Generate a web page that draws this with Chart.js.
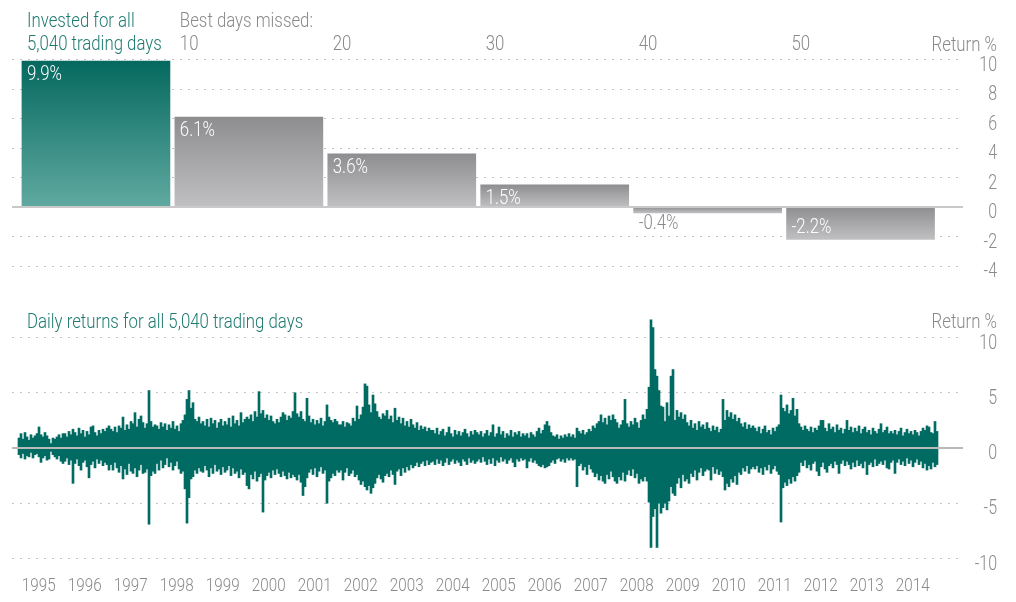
<!DOCTYPE html>
<html>
<head>
<meta charset="utf-8">
<script src="https://cdn.jsdelivr.net/npm/chart.js@4.4.1/dist/chart.umd.min.js"></script>
<style>
  html, body { margin: 0; padding: 0; background: #fff; }
  #wrap { position: relative; width: 1016px; height: 602px; overflow: hidden; }
  #c1 { position: absolute; left: 0; top: 0; }
  #c2 { position: absolute; left: 0; top: 290px; }
</style>
</head>
<body>
<div id="wrap">
  <canvas id="c1" width="1016" height="290"></canvas>
  <canvas id="c2" width="1016" height="312"></canvas>
</div>
<script>
// Missed best days vs annual return
var missedLabels = ['Invested for all|5,040 trading days', '10', '20', '30', '40', '50'];
var missedReturns = [9.9, 6.1, 3.6, 1.5, -0.4, -2.2];

var years = [1995, 1996, 1997, 1998, 1999, 2000, 2001, 2002, 2003, 2004,
             2005, 2006, 2007, 2008, 2009, 2010, 2011, 2012, 2013, 2014];
var SLOTS_PER_YEAR = 23;
var dailyUp = [
  0.9,1.3,0.8,1.4,1.0,0.7,1.2,0.9,1.1,1.3,1.9,1.2,1.0,1.4,1.1,0.8,0.4,0.9,0.8,1.0,1.2,0.9,1.3, // 1995
  1.3,1.0,1.5,1.2,1.7,1.4,1.1,1.8,1.3,1.6,1.0,1.5,1.2,1.9,2.0,1.4,1.1,1.6,1.3,1.7,1.5,1.8,2.0, // 1996
  1.7,1.5,1.9,1.4,2.0,1.8,2.8,1.6,2.1,1.7,2.4,2.2,3.2,1.9,2.6,2.9,2.3,1.8,2.2,5.2,2.4,1.9,2.1, // 1997
  2.0,1.7,2.3,1.9,2.2,1.6,2.1,1.8,2.4,1.7,2.0,1.5,2.2,2.5,3.0,4.4,5.2,3.6,4.1,2.6,2.4,2.8,2.2, // 1998
  2.4,2.0,2.6,1.9,2.7,2.2,2.5,1.8,2.3,2.6,2.0,2.4,2.1,2.7,1.9,2.9,2.2,2.5,2.0,3.2,2.3,2.6,2.8, // 1999
  2.6,3.0,2.4,3.3,2.8,5.1,3.1,3.4,2.7,3.0,2.5,2.9,2.4,2.2,2.6,2.3,2.8,3.2,3.0,2.5,2.9,2.7,3.3, // 2000
  5.0,3.1,2.8,3.3,2.6,2.4,4.5,2.9,2.3,2.6,2.1,2.5,2.2,2.7,2.0,2.4,3.9,2.8,2.5,2.3,2.6,2.4,2.1, // 2001
  2.1,2.4,1.9,2.3,2.2,2.0,2.7,2.4,3.8,2.6,3.0,3.7,5.8,5.6,3.9,3.2,4.8,4.0,3.3,2.8,2.6,3.1,2.9, // 2002
  3.4,2.6,2.9,2.3,3.6,2.5,2.8,2.2,2.7,2.0,2.4,1.9,2.6,2.1,1.8,2.3,1.6,2.0,1.7,1.9,1.5,1.8,1.6, // 2003
  1.6,1.3,1.8,1.2,1.5,1.7,1.1,1.4,1.9,1.3,1.0,1.6,1.2,1.5,1.1,1.4,1.7,1.3,1.0,1.5,1.2,1.6,1.4, // 2004
  1.2,1.5,1.0,1.3,1.6,1.1,1.4,2.1,1.0,1.3,1.9,1.2,1.5,0.9,1.3,1.1,1.6,1.0,1.4,1.2,1.5,1.0,1.3, // 2005
  1.1,1.3,0.9,1.4,1.2,1.0,1.5,1.8,1.3,1.6,2.1,2.4,2.0,1.4,1.1,1.0,1.2,0.8,1.1,0.9,1.2,1.0,1.3, // 2006
  1.0,1.2,0.9,1.8,1.5,1.3,1.6,1.2,1.4,1.7,1.5,2.0,1.8,2.2,2.4,3.0,2.3,2.7,2.1,2.9,2.5,3.0,2.6, // 2007
  2.3,1.8,2.1,2.5,4.4,2.2,1.9,2.4,2.1,2.7,2.3,1.8,2.5,3.0,2.6,3.5,5.5,11.6,10.9,7.1,6.5,5.2,3.8, // 2008
  3.7,2.4,4.1,2.9,6.5,7.1,2.5,3.4,2.8,3.2,2.6,3.0,2.3,2.0,2.5,1.8,2.2,1.6,2.4,1.9,2.1,1.7,2.3, // 2009
  1.8,1.5,2.0,1.6,1.9,1.4,1.7,4.4,2.5,3.4,2.8,3.2,2.6,3.0,2.4,2.7,2.2,1.9,2.3,1.7,2.1,1.8,2.0, // 2010
  1.8,1.5,1.9,1.3,1.7,2.0,1.4,1.6,1.2,1.8,1.5,1.9,2.1,4.8,3.6,3.3,3.9,3.1,3.4,4.5,2.9,3.5,2.2, // 2011
  1.9,1.6,2.0,1.7,1.5,1.9,1.4,1.8,1.6,2.0,2.5,2.5,1.8,1.5,2.2,1.7,1.9,1.4,2.1,1.6,1.8,1.3,1.7, // 2012
  2.5,1.6,1.9,1.4,1.8,1.5,2.0,1.3,1.7,1.9,1.4,1.6,1.2,1.8,1.5,1.3,1.7,2.2,1.4,1.6,1.9,1.3,1.5, // 2013
  1.3,1.6,1.2,1.5,1.8,1.1,1.4,1.7,1.3,1.5,1.2,1.6,1.4,1.1,1.5,1.8,1.6,2.0,1.9,1.4,1.3,2.4,1.5  // 2014
];
var dailyDown = [
  -0.6,-0.9,-0.5,-1.0,-0.7,-0.8,-0.4,-0.9,-0.6,-0.5,-0.8,-1.3,-0.9,-0.7,-1.1,-1.0,-0.3,-0.6,-0.8,-1.0,-0.7,-1.2,-1.4, // 1995
  -1.2,-0.9,-1.5,-1.1,-3.2,-1.4,-1.0,-1.6,-2.0,-1.3,-1.1,-1.7,-2.7,-1.5,-1.2,-1.8,-1.0,-1.4,-1.1,-1.6,-1.3,-1.5,-2.0, // 1996
  -1.5,-2.0,-1.3,-1.8,-2.2,-1.6,-2.8,-1.9,-2.4,-1.4,-2.1,-2.3,-1.8,-2.6,-2.0,-1.5,-2.3,-2.2,-1.9,-6.9,-2.5,-2.1,-2.3, // 1997
  -1.4,-2.0,-1.1,-1.8,-1.5,-0.9,-1.7,-1.3,-2.0,-1.6,-1.2,-1.9,-2.3,-2.1,-3.7,-6.8,-4.5,-2.8,-2.6,-2.0,-2.3,-1.8,-2.1, // 1998
  -2.2,-1.6,-2.0,-2.6,-1.8,-2.3,-1.5,-2.1,-1.9,-2.4,-1.7,-2.2,-2.0,-1.6,-2.5,-1.8,-2.3,-2.1,-2.7,-1.9,-2.4,-2.2,-3.4, // 1999
  -3.7,-2.4,-2.8,-2.1,-3.0,-2.6,-2.3,-5.8,-2.9,-2.5,-2.2,-2.7,-2.0,-2.4,-1.9,-2.3,-2.6,-2.1,-2.5,-2.8,-2.2,-2.7,-2.4, // 2000
  -2.6,-2.9,-2.4,-3.1,-4.3,-3.5,-2.7,-2.2,-1.9,-2.4,-1.8,-2.6,-2.1,-1.7,-2.3,-2.0,-5.0,-3.0,-2.7,-2.3,-2.5,-2.0,-2.2, // 2001
  -2.0,-2.9,-2.2,-1.8,-2.5,-2.3,-2.0,-2.6,-2.4,-2.9,-3.3,-3.0,-3.5,-3.8,-3.4,-4.1,-3.6,-3.2,-2.7,-2.4,-2.8,-3.1,-2.5, // 2002
  -2.3,-2.6,-2.0,-2.4,-3.3,-2.1,-1.9,-2.5,-1.8,-2.2,-1.7,-2.0,-1.5,-1.8,-1.6,-1.3,-1.7,-1.4,-1.2,-1.6,-1.1,-1.5,-1.3, // 2003
  -1.2,-1.5,-1.0,-1.4,-1.1,-1.6,-1.3,-0.9,-1.5,-1.2,-1.0,-1.4,-1.1,-1.3,-1.6,-1.0,-1.2,-1.5,-0.9,-1.3,-1.1,-1.4,-1.2, // 2004
  -1.0,-1.3,-0.8,-1.2,-1.5,-1.0,-1.4,-0.9,-1.6,-1.1,-1.3,-0.8,-1.2,-1.0,-1.4,-1.1,-0.9,-1.3,-1.7,-1.0,-1.2,-0.9,-1.1, // 2005
  -1.0,-1.8,-1.2,-0.9,-1.3,-1.1,-1.4,-1.6,-1.7,-1.5,-1.8,-1.7,-1.6,-1.3,-1.1,-1.4,-1.0,-0.9,-1.2,-1.0,-1.3,-0.9,-1.1, // 2006
  -0.9,-1.1,-1.0,-3.5,-1.6,-1.4,-2.0,-1.7,-2.4,-1.5,-1.9,-2.2,-2.6,-2.3,-2.9,-2.5,-3.0,-3.2,-2.4,-2.8,-2.1,-2.6,-3.0, // 2007
  -3.2,-2.6,-2.9,-2.2,-3.0,-2.4,-2.0,-2.5,-1.9,-2.7,-2.3,-3.2,-2.8,-3.0,-2.6,-3.0,-4.9,-9.0,-6.2,-5.5,-9.0,-5.0,-5.9, // 2008
  -5.4,-5.0,-5.6,-4.8,-3.5,-4.1,-4.3,-3.2,-2.7,-3.6,-2.4,-3.0,-2.8,-3.2,-2.3,-2.6,-2.0,-2.9,-2.2,-1.8,-2.5,-2.1,-1.9, // 2009
  -2.0,-2.9,-1.7,-2.3,-1.9,-2.4,-2.1,-2.6,-3.8,-3.2,-3.5,-2.8,-3.1,-2.5,-3.3,-2.2,-2.4,-1.8,-2.1,-1.6,-2.3,-1.9,-1.7, // 2010
  -1.9,-1.6,-2.2,-1.8,-2.4,-1.7,-2.0,-1.5,-2.3,-1.9,-1.6,-2.1,-2.4,-6.7,-3.6,-3.1,-3.4,-2.8,-3.2,-2.6,-3.0,-2.5,-2.2, // 2011
  -1.3,-1.6,-1.1,-1.8,-1.5,-2.0,-1.4,-1.2,-2.1,-2.5,-1.7,-1.3,-1.9,-2.2,-1.6,-1.4,-1.8,-1.2,-1.5,-2.3,-1.4,-1.1,-1.6, // 2012
  -1.2,-1.5,-1.9,-1.3,-1.7,-1.1,-1.6,-1.4,-1.8,-1.2,-2.4,-1.5,-1.3,-1.7,-1.0,-1.6,-1.4,-1.2,-1.5,-1.1,-1.8,-1.9,-1.3, // 2013
  -1.1,-2.3,-1.3,-1.0,-1.5,-1.2,-1.6,-0.9,-1.4,-1.1,-1.7,-1.3,-1.0,-1.5,-1.2,-1.8,-1.4,-2.0,-1.6,-1.9,-1.3,-1.7,-1.5  // 2014
];

var FONT = "Roboto, 'Liberation Sans', sans-serif";
var SX = 0.8;            // horizontal squeeze, the original uses a condensed face
var TEAL = '#006b62';
var TEAL_TXT = '#1f7b71';
var GRAY_TXT = '#8a8a8a';
var GRID = '#c4c4c4';

function slotX(i) { return years[0] + (i + 0.5) / SLOTS_PER_YEAR; }

function narrowText(ctx, txt, x, y, align) {
  ctx.save();
  ctx.translate(x, y);
  ctx.scale(SX, 1);
  ctx.textAlign = align || 'left';
  ctx.fillText(txt, 0, 0);
  ctx.restore();
}

// axis labels drawn with the same squeeze; positions still come from the scale
Chart.LinearScale.prototype.drawLabels = function(chartArea) {
  var opts = this.options;
  if (!opts.display || !opts.ticks.display) return;
  var ctx = this.ctx, vertical = !this.isHorizontal(), right = this.right;
  this.getLabelItems(chartArea).forEach(function(item) {
    var o = item.options;
    ctx.save();
    ctx.font = item.font.string;
    ctx.fillStyle = o.color;
    ctx.textBaseline = o.textBaseline;
    if (vertical) { ctx.translate(right, o.translation[1]); ctx.textAlign = 'right'; }
    else { ctx.translate(o.translation[0], o.translation[1]); ctx.textAlign = o.textAlign; }
    ctx.scale(SX, 1);
    ctx.fillText(String(item.label), 0, item.textOffset);
    ctx.restore();
  });
};

function barFill(c) {
  var ch = c.chart;
  if (!ch.chartArea) return '#999';
  var ys = ch.scales.y, v = c.parsed ? c.parsed.y : 0;
  var y1 = ys.getPixelForValue(Math.max(v, 0)), y2 = ys.getPixelForValue(Math.min(v, 0));
  var g = ch.ctx.createLinearGradient(0, y1, 0, y2 + 0.01);
  if (c.dataIndex === 0) { g.addColorStop(0, '#05695f'); g.addColorStop(1, '#60a9a0'); }
  else { g.addColorStop(0, '#8e8e90'); g.addColorStop(1, '#c0c0c2'); }
  return g;
}

function gridColor(c) { return c.tick && c.tick.value === 0 ? 'rgba(0,0,0,0)' : GRID; }

function yAxis(min, max, step) {
  return {
    position: 'right', min: min, max: max,
    afterFit: function(s) { s.width = 34; },
    grid: { color: gridColor, lineWidth: 1, drawTicks: false },
    border: { display: false, dash: [2, 6] },
    ticks: { stepSize: step, color: GRAY_TXT, font: { family: FONT, size: 20, weight: '300' }, labelOffset: 6 }
  };
}

// top panel: labels, zero line
var topDecor = {
  id: 'topDecor',
  afterDatasetsDraw: function(ch) {
    var ctx = ch.ctx, a = ch.chartArea;
    var z = ch.scales.y.getPixelForValue(0);
    var bars = ch.getDatasetMeta(0).data;
    ctx.save();
    ctx.fillStyle = '#c9c9c9';
    ctx.fillRect(a.left, z - 1, a.right - a.left, 2);
    ctx.font = '300 21px ' + FONT;
    ctx.textBaseline = 'alphabetic';
    bars.forEach(function(b, i) {
      var v = missedReturns[i], left = b.x - b.width / 2 + 5;
      var txt = v.toFixed(1) + '%';
      if (v >= 0) { ctx.fillStyle = '#fff'; narrowText(ctx, txt, left, b.y + 19); }
      else if (b.y - z > 28) { ctx.fillStyle = '#fff'; narrowText(ctx, txt, left, z + 26); }
      else { ctx.fillStyle = GRAY_TXT; narrowText(ctx, txt, left, b.y + 16); }
      var lines = missedLabels[i].split('|');
      ctx.fillStyle = i === 0 ? TEAL_TXT : GRAY_TXT;
      if (lines.length === 2) { narrowText(ctx, lines[0], left, 27); narrowText(ctx, lines[1], left, 50); }
      else narrowText(ctx, lines[0], left, 50);
    });
    ctx.fillStyle = GRAY_TXT;
    narrowText(ctx, 'Best days missed:', bars[1].x - bars[1].width / 2 + 5, 27);
    narrowText(ctx, 'Return %', 997, 51, 'right');
    ctx.restore();
  }
};

new Chart(document.getElementById('c1'), {
  type: 'bar',
  data: {
    datasets: [{
      data: missedReturns.map(function(v, i) { return { x: i, y: v }; }),
      backgroundColor: barFill,
      borderWidth: 0,
      barThickness: 148
    }]
  },
  options: {
    responsive: false,
    animation: false,
    layout: { padding: { left: 12, right: 19, top: 59.5, bottom: 24 } },
    plugins: { legend: { display: false }, tooltip: { enabled: false } },
    scales: {
      x: { type: 'linear', min: -0.549, max: 5.67, offset: false, display: false },
      y: yAxis(-4, 10, 2)
    }
  },
  plugins: [topDecor]
});

// bottom panel
var botDecor = {
  id: 'botDecor',
  afterDatasetsDraw: function(ch) {
    var ctx = ch.ctx, a = ch.chartArea;
    var z = ch.scales.y.getPixelForValue(0);
    ctx.save();
    ctx.fillStyle = '#b9b9b9';
    ctx.fillRect(a.left, z - 1, a.right - a.left, 2);
    ctx.font = '300 21px ' + FONT;
    ctx.fillStyle = TEAL_TXT;
    narrowText(ctx, 'Daily returns for all 5,040 trading days', 27, 38);
    ctx.fillStyle = GRAY_TXT;
    narrowText(ctx, 'Return %', 997, 38, 'right');
    ctx.restore();
  }
};

new Chart(document.getElementById('c2'), {
  type: 'bar',
  data: {
    datasets: [
      { data: dailyUp.map(function(v, i) { return { x: slotX(i), y: v }; }), backgroundColor: TEAL, barThickness: 2, grouped: false, clip: false },
      { data: dailyDown.map(function(v, i) { return { x: slotX(i), y: v }; }), backgroundColor: TEAL, barThickness: 2, grouped: false, clip: false }
    ]
  },
  options: {
    responsive: false,
    animation: false,
    layout: { padding: { left: 12, right: 19, top: 47.5, bottom: 0 } },
    plugins: { legend: { display: false }, tooltip: { enabled: false } },
    scales: {
      x: {
        type: 'linear', min: 1994.8696, max: 2015.5435, offset: false,
        afterBuildTicks: function(s) { s.ticks = years.map(function(y) { return { value: y + 0.45 }; }); },
        afterFit: function(s) { s.height = 43.5; },
        grid: { display: false },
        border: { display: false },
        ticks: { color: GRAY_TXT, font: { family: FONT, size: 19, weight: '300' }, padding: 8, maxRotation: 0, autoSkip: false,
                 callback: function(v) { return String(Math.floor(v)); } }
      },
      y: yAxis(-10, 10, 5)
    }
  },
  plugins: [botDecor]
});
</script>
</body>
</html>
